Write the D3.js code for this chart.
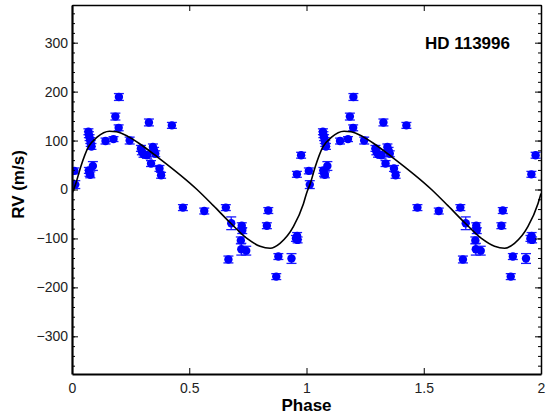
<!DOCTYPE html>
<html>
<head>
<meta charset="utf-8">
<script src="https://cdn.jsdelivr.net/npm/d3@7"></script>
<style>
  body { margin: 0; background: #fff; }
  svg { display: block; font-family: "Liberation Sans", Arial, sans-serif; }
  .axis path, .axis line { stroke: #000; }
  .axis text { font-size: 14px; fill: #222; }
</style>
</head>
<body>
<svg id="chart" width="557" height="418"></svg>
<script>
// observed RV points, one period (phase, m/s, error)
const phase = [0.010, 0.014, 0.070, 0.072, 0.075, 0.078, 0.080, 0.083, 0.072, 0.075, 0.078, 0.089,
  0.143, 0.177, 0.185, 0.199, 0.200, 0.246, 0.294, 0.298, 0.305, 0.320, 0.328, 0.337, 0.345, 0.350,
  0.355, 0.373, 0.380, 0.426, 0.473, 0.564, 0.656, 0.667, 0.679, 0.720, 0.722, 0.724, 0.726, 0.743,
  0.831, 0.837, 0.871, 0.880, 0.936, 0.955, 0.960, 0.962, 0.959, 0.977];
const rv = [38, 10, 118, 112, 106, 100, 94, 88, 39, 33, 30, 48,
  99, 103, 149, 126, 189, 100, 84, 77, 72, 70, 137, 53, 87, 80,
  73, 43, 29, 131, -37, -44, -37, -143, -69, -104, -122, -74, -84, -125,
  -74, -43, -178, -137, -141, -100, -95, -103, 31, 70];
const rvErr = [6, 8, 6, 6, 6, 6, 6, 6, 6, 6, 6, 9,
  6, 5, 7, 6, 7, 7, 6, 6, 6, 6, 7, 6, 6, 6,
  6, 6, 6, 6, 6, 6, 6, 7, 13, 7, 12, 6, 6, 9,
  6, 6, 6, 6, 10, 6, 7, 6, 6, 6];

// orbit fit (one period)
const fitPhase = [0, 0.016, 0.037, 0.07, 0.107, 0.16, 0.19, 0.24, 0.29, 0.36,
  0.533, 0.603, 0.675, 0.746, 0.802, 0.845, 0.887, 0.944, 0.987];
const fitRv = [-8, 12, 46, 87, 107, 119, 118, 108, 93, 68,
  0, -33, -68, -100, -116, -120, -110, -76, -29];

const xTicks = [0, 0.5, 1, 1.5, 2];
const yTicks = [-300, -200, -100, 0, 100, 200, 300];
const yMinor = d3.range(-360, 361, 20);
const title = 'HD 113996';

const margin = {top: 5, right: 16, bottom: 44, left: 72};
const width = 557, height = 418;

const svg = d3.select('#chart');

const x = d3.scaleLinear().domain([0, 2]).range([margin.left, width - margin.right]);
const y = d3.scaleLinear().domain([-377, 377]).range([height - margin.bottom, margin.top]);

// fold both cycles
const points = [];
for (let c = 0; c < 2; c++) {
  phase.forEach((p, i) => points.push({p: p + c, v: rv[i], e: rvErr[i]}));
}
const fit = [];
for (let c = 0; c < 2; c++) {
  fitPhase.forEach((p, i) => fit.push({p: p + c, v: fitRv[i]}));
}
fit.push({p: 2, v: fitRv[0]});

svg.append('clipPath').attr('id', 'clip')
  .append('rect')
  .attr('x', margin.left).attr('y', margin.top)
  .attr('width', x(2) - x(0)).attr('height', y(-377) - y(377));

const plot = svg.append('g').attr('clip-path', 'url(#clip)');

// error bars
const eb = plot.append('g').attr('stroke', '#1a1aff').attr('stroke-width', 1.3);
points.forEach(d => {
  eb.append('line').attr('x1', x(d.p)).attr('x2', x(d.p)).attr('y1', y(d.v - d.e)).attr('y2', y(d.v + d.e));
  [d.v - d.e, d.v + d.e].forEach(v => {
    eb.append('line').attr('x1', x(d.p) - 5).attr('x2', x(d.p) + 5).attr('y1', y(v)).attr('y2', y(v));
  });
});

plot.append('g').selectAll('circle')
  .data(points)
  .join('circle')
  .attr('cx', d => x(d.p))
  .attr('cy', d => y(d.v))
  .attr('r', 4.2)
  .attr('fill', '#0000ff');

const line = d3.line()
  .x(d => x(d.p))
  .y(d => y(d.v))
  .curve(d3.curveMonotoneX);

plot.append('path')
  .datum(fit)
  .attr('fill', 'none')
  .attr('stroke', '#000')
  .attr('stroke-width', 1.6)
  .attr('d', line);

// axes
const fmt = d => d3.format('')(d).replace('-', '\u2212');

svg.append('g').attr('class', 'axis')
  .attr('transform', `translate(0,${y(-377)})`)
  .call(d3.axisBottom(x).tickValues(xTicks).tickSize(-6).tickPadding(9).tickSizeOuter(0).tickFormat(fmt))
  .call(g => g.select('.domain').attr('stroke-width', 2));

svg.append('g').attr('class', 'axis')
  .attr('transform', `translate(0,${y(377)})`)
  .call(d3.axisTop(x).tickValues(xTicks).tickSize(-6).tickSizeOuter(0).tickFormat(''))
  .call(g => g.select('.domain').attr('stroke-width', 1.5));

svg.append('g').attr('class', 'axis')
  .attr('transform', `translate(${x(0)},0)`)
  .call(d3.axisLeft(y).tickValues(yTicks).tickSize(-6).tickPadding(4).tickSizeOuter(0).tickFormat(fmt))
  .call(g => g.select('.domain').attr('stroke-width', 2.2));

svg.append('g').attr('class', 'axis')
  .attr('transform', `translate(${x(0)},0)`)
  .call(d3.axisLeft(y).tickValues(yMinor).tickSize(-3).tickSizeOuter(0).tickFormat(''))
  .call(g => g.select('.domain').remove());

svg.append('g').attr('class', 'axis')
  .attr('transform', `translate(${x(2)},0)`)
  .call(d3.axisRight(y).tickValues(yTicks).tickSize(-6).tickSizeOuter(0).tickFormat(''))
  .call(g => g.select('.domain').attr('stroke-width', 1.5));

svg.append('g').attr('class', 'axis')
  .attr('transform', `translate(${x(2)},0)`)
  .call(d3.axisRight(y).tickValues(yMinor).tickSize(-3).tickSizeOuter(0).tickFormat(''))
  .call(g => g.select('.domain').remove());

// labels
svg.append('text')
  .attr('x', (x(0) + x(2)) / 2)
  .attr('y', 411)
  .attr('text-anchor', 'middle')
  .attr('font-size', 17)
  .attr('font-weight', 'bold')
  .text('Phase');

svg.append('text')
  .attr('transform', `translate(24,${(y(377) + y(-377)) / 2 - 5}) rotate(-90)`)
  .attr('text-anchor', 'middle')
  .attr('font-size', 17)
  .attr('font-weight', 'bold')
  .text('RV (m/s)');

svg.append('text')
  .attr('x', 510)
  .attr('y', 49)
  .attr('text-anchor', 'end')
  .attr('font-size', 17)
  .attr('font-weight', 'bold')
  .text(title);
</script>
</body>
</html>
